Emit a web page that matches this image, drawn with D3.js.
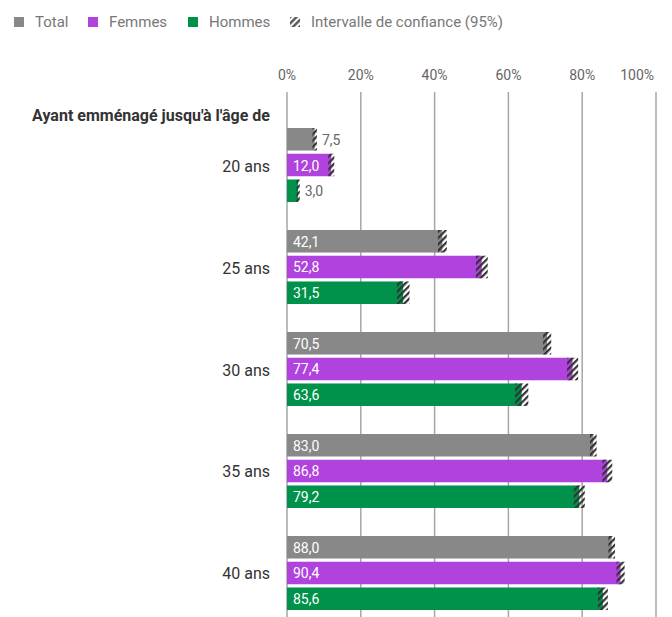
<!DOCTYPE html>
<html><head><meta charset="utf-8">
<script src="https://cdn.jsdelivr.net/npm/d3@7"></script>
<style>
html,body{margin:0;padding:0;background:#fff;}
svg{display:block;font-family:Roboto,"Noto Sans",sans-serif;}
</style></head>
<body>
<svg id="chart" width="672" height="617"></svg>
<script>
const ages = ["20 ans","25 ans","30 ans","35 ans","40 ans"];
const seriesNames = ["Total","Femmes","Hommes"];
const seriesColors = ["#888888","#B042DD","#00924A"];
const totalValues  = [7.5, 42.1, 70.5, 83.0, 88.0];
const femmesValues = [12.0, 52.8, 77.4, 86.8, 90.4];
const hommesValues = [3.0, 31.5, 63.6, 79.2, 85.6];
const totalCI  = [0.6, 1.2, 1.1, 0.9, 0.9];
const femmesCI = [0.8, 1.6, 1.5, 1.35, 1.1];
const hommesCI = [0.45, 1.7, 1.8, 1.5, 1.35];
const xTicks = [0, 20, 40, 60, 80, 100];
const axisTitle = "Ayant emménagé jusqu'à l'âge de";
const legendCI = "Intervalle de confiance (95%)";

const valuesBySeries = [totalValues, femmesValues, hommesValues];
const ciBySeries = [totalCI, femmesCI, hommesCI];
const rows = [];
ages.forEach((a, i) => seriesNames.forEach((s, j) => rows.push({
  age: a, series: s, color: seriesColors[j],
  value: valuesBySeries[j][i], lo: valuesBySeries[j][i] - ciBySeries[j][i], hi: valuesBySeries[j][i] + ciBySeries[j][i]
})));

const svg = d3.select("#chart");
const defs = svg.append("defs");
const pat = defs.append("pattern").attr("id","hatch").attr("patternUnits","userSpaceOnUse")
  .attr("width",4.5).attr("height",4.5).attr("patternTransform","rotate(45)");
pat.append("rect").attr("x",0).attr("y",0).attr("width",2.2).attr("height",4.5).attr("fill","#333");
const pat2 = defs.append("pattern").attr("id","hatchLeg").attr("patternUnits","userSpaceOnUse")
  .attr("width",4.5).attr("height",4.5).attr("patternTransform","rotate(45)");
pat2.append("rect").attr("x",0).attr("y",0).attr("width",2.4).attr("height",4.5).attr("fill","#555");

const x = d3.scaleLinear().domain([0,100]).range([287,656]);
const yG = d3.scaleBand().domain(ages).range([128,610]).paddingInner(0.2745).paddingOuter(0);
const yS = d3.scaleBand().domain(seriesNames).range([0,74]).paddingInner(0.125).paddingOuter(0);

// gridlines
svg.append("g").selectAll("line").data(xTicks).join("line")
  .attr("x1",d=>x(d)).attr("x2",d=>x(d)).attr("y1",92).attr("y2",617)
  .attr("stroke","#a6a6a6").attr("stroke-width",1.5);

// top axis labels
svg.append("g").selectAll("text").data(xTicks).join("text")
  .attr("x",(d,i)=> i===xTicks.length-1 ? x(d)-2 : x(d))
  .attr("y",75).attr("dominant-baseline","central")
  .attr("text-anchor",(d,i)=> i===xTicks.length-1 ? "end" : "middle")
  .attr("font-size",14).attr("fill","#666").text(d=>d+"%");

// bars
const bars = svg.append("g");
bars.selectAll("rect.bar").data(rows).join("rect").attr("class","bar")
  .attr("x",x(0)).attr("y",d=>yG(d.age)+yS(d.series))
  .attr("width",d=>x(d.value)-x(0)).attr("height",yS.bandwidth()).attr("fill",d=>d.color);
bars.selectAll("rect.ci").data(rows).join("rect").attr("class","ci")
  .attr("x",d=>x(d.lo)).attr("y",d=>yG(d.age)+yS(d.series))
  .attr("width",d=>x(d.hi)-x(d.lo)).attr("height",yS.bandwidth()).attr("fill","url(#hatch)");

const fmt = v => v.toFixed(1).replace(".",",");
bars.selectAll("text").data(rows).join("text")
  .attr("x",d=> d.value >= 10 ? x(0)+6 : x(d.hi)+5)
  .attr("y",d=>yG(d.age)+yS(d.series)+yS.bandwidth()/2+0.5)
  .attr("dominant-baseline","central").attr("font-size",14)
  .attr("fill",d=> d.value >= 10 ? "#fff" : "#666").text(d=>fmt(d.value));

// y labels
svg.append("g").selectAll("text").data(ages).join("text")
  .attr("x",270).attr("y",d=>yG(d)+yG.bandwidth()/2+1)
  .attr("text-anchor","end").attr("dominant-baseline","central")
  .attr("font-size",16).attr("fill","#333").text(d=>d);
svg.append("text").attr("x",270).attr("y",115).attr("text-anchor","end")
  .attr("dominant-baseline","central").attr("font-size",16).attr("font-weight","bold")
  .attr("fill","#333").text(axisTitle);

// legend
const legItems = [
  {label:"Total", fill:seriesColors[0], x:14},
  {label:"Femmes", fill:seriesColors[1], x:88},
  {label:"Hommes", fill:seriesColors[2], x:188},
  {label:legendCI, fill:"url(#hatchLeg)", x:290}
];
const leg = svg.append("g").selectAll("g").data(legItems).join("g");
leg.append("rect").attr("x",d=>d.x).attr("y",17).attr("width",10).attr("height",10).attr("fill",d=>d.fill);
leg.append("text").attr("x",d=>d.x+21).attr("y",21.5).attr("dominant-baseline","central")
  .attr("font-size",15).attr("fill","#777").text(d=>d.label);
</script>
</body></html>
